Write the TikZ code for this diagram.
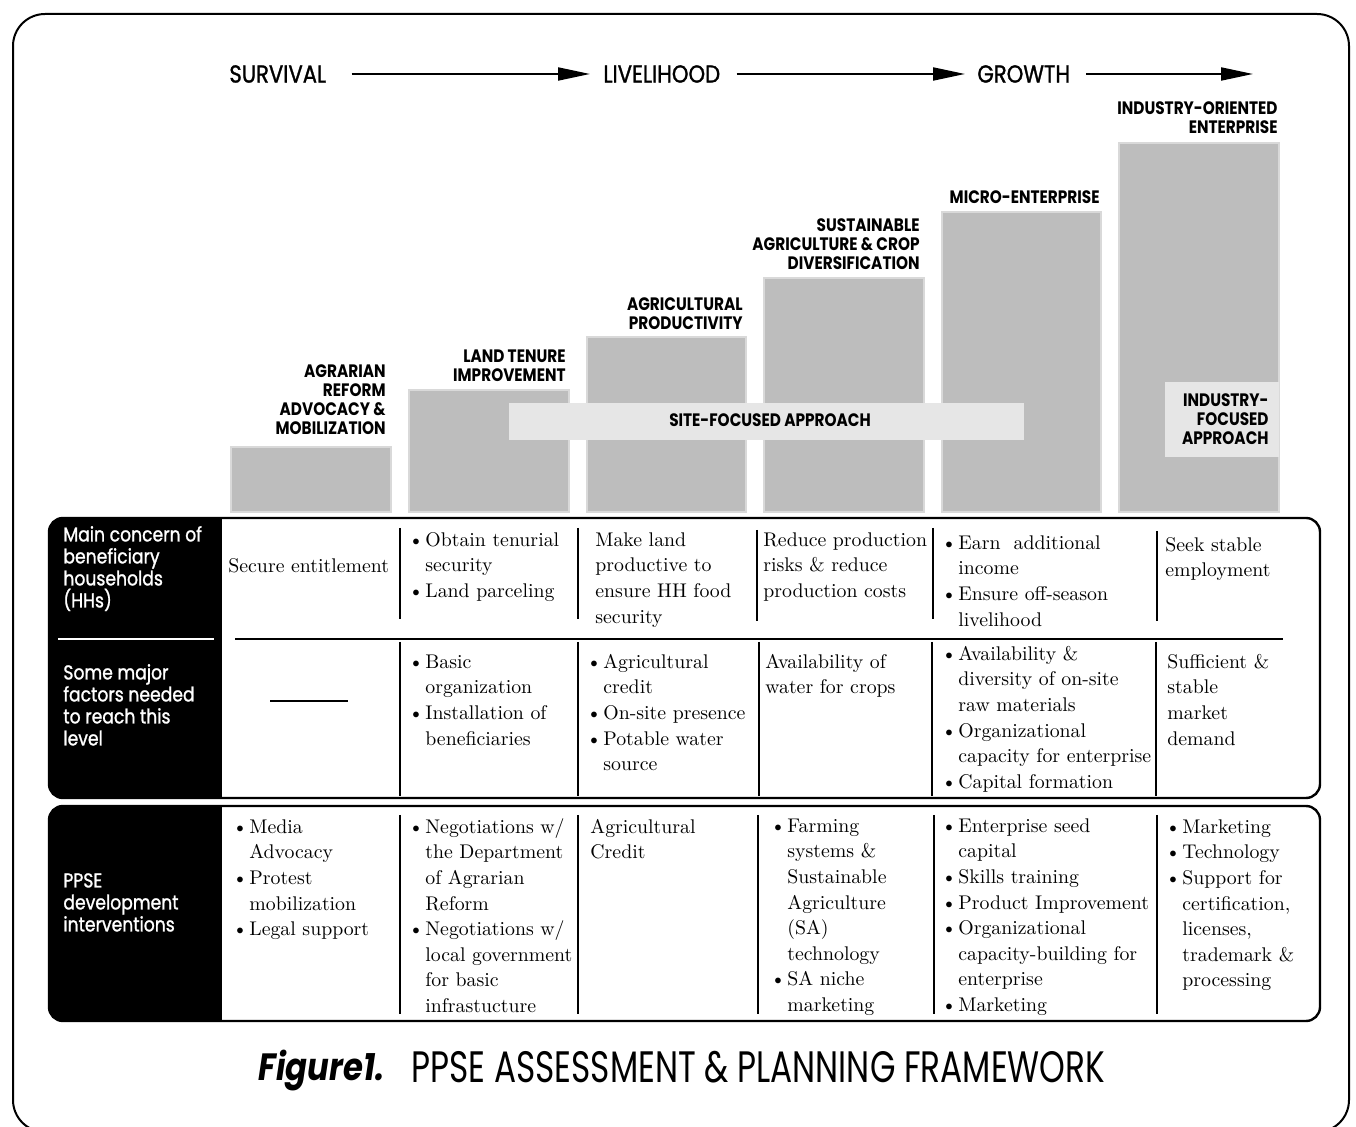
\documentclass[tikz,border=0pt]{standalone}
\usepackage{fontspec}
\usetikzlibrary{arrows.meta}
\newfontfamily\futf[FakeStretch=0.85]{Poppins}
\newfontfamily\futm[FakeStretch=0.86,FakeBold=1.2]{Poppins}
\newfontfamily\capff[FakeStretch=0.745]{Poppins}
\definecolor{barg}{HTML}{BDBDBD}
\definecolor{barb}{HTML}{D9D9D9}
\definecolor{boxg}{HTML}{E6E6E6}
\newcommand\bu{\makebox[8.5pt][l]{\textbullet}}
\newcommand\hi{\hspace*{8.5pt}}
\newcommand\tstrut{\rule{0pt}{8pt}}
\begin{document}
\begin{tikzpicture}[x=0.5pt,y=-0.5pt,
  stage/.style={anchor=west,inner sep=0,font=\futm\fontsize{12.3}{13}\selectfont},
  stagearr/.style={line width=1pt,-{Triangle[length=16pt,width=6.5pt]}},
  barlab/.style={anchor=south east,inner sep=0,align=right,font=\futf\bfseries\fontsize{9}{9.5}\selectfont},
  bar/.style={fill=barg,draw=barb,line width=1pt},
  appr/.style={fill=boxg},
  cell/.style={anchor=north west,inner sep=0,align=left,font=\fontsize{9.9}{12.8}\selectfont},
  head/.style={anchor=north west,inner sep=0,align=left,text=white,font=\futm\fontsize{10}{11}\selectfont},
  tborder/.style={line width=1.2pt,rounded corners=7pt},
  divl/.style={line width=1pt}]
\useasboundingbox (0,0) rectangle (1356,1127);
% outer frame
\draw[line width=1pt,rounded corners=16pt] (13,14) rectangle (1349,1132);
% stages
\node[stage] (surv) at (229,74) {SURVIVAL};
\node[stage] (live) at (603,74) {LIVELIHOOD};
\node[stage] (grow) at (977,74) {GROWTH};
\coordinate (stend) at (1253,74);
\draw[stagearr,shorten <=12.5pt,shorten >=6.5pt] (surv.east) -- (live.west);
\draw[stagearr,shorten <=8pt,shorten >=6pt] (live.east) -- (grow.west);
\draw[stagearr,shorten <=8pt] (grow.east) -- (stend);
% bars
\path[bar] (231,447) rectangle (391,512);
\path[bar] (409,390) rectangle (569,512);
\path[bar] (587,337) rectangle (746,512);
\path[bar] (764,278) rectangle (924,512);
\path[bar] (942,212) rectangle (1101,512);
\path[bar] (1119,143) rectangle (1279,512);
\fill[appr] (509,403) rectangle (1024,440);
\fill[appr] (1165,382) rectangle (1279,457);
\node[anchor=center,inner sep=0,font=\futf\bfseries\fontsize{9}{9.5}\selectfont] (site) at (770,420) {SITE-FOCUSED APPROACH};
\node[barlab] (ind) at (1269,445) {INDUSTRY-\\FOCUSED\\APPROACH};
% bar labels
\node[barlab] (b1) at (386,435) {AGRARIAN\\REFORM\\ADVOCACY \&\\MOBILIZATION};
\node[barlab] (b2) at (566,382) {LAND TENURE\\IMPROVEMENT};
\node[barlab] (b3) at (743,330) {AGRICULTURAL\\PRODUCTIVITY};
\node[barlab] (b4) at (920,270) {SUSTAINABLE\\AGRICULTURE \& CROP\\DIVERSIFICATION};
\node[barlab] (b5) at (1100,204) {MICRO-ENTERPRISE};
\node[barlab] (b6) at (1278,134) {INDUSTRY-ORIENTED\\ENTERPRISE};
% table 1
\begin{scope}
\clip[rounded corners=7pt] (49,518) rectangle (1320,798);
\fill[black] (49,518) rectangle (222,798);
\end{scope}
\draw[tborder] (49,518) rectangle (1320,798);
\draw[white,line width=1pt] (58,639) -- (214,639);
\draw[divl] (235,639) -- (1283,639);
\draw[divl] (400,528) -- (400,619);
\draw[divl] (578,528) -- (578,619);
\draw[divl] (757,530) -- (757,621);
\draw[divl] (933,528) -- (933,619);
\draw[divl] (1157,531) -- (1157,621);
\draw[divl] (400,642) -- (400,796);
\draw[divl] (578,642) -- (578,796);
\draw[divl] (759,642) -- (759,796);
\draw[divl] (932,642) -- (932,796);
\draw[divl] (1156,642) -- (1156,796);
\draw[line width=0.8pt] (270,701) -- (348,701);
\node[head] (h1) at (63,525) {\tstrut Main concern of\\beneficiary\\households\\(HHs)};
\node[head] (h2) at (63,663) {\tstrut Some major\\factors needed\\to reach this\\level};
% row 1 cells
\node[cell] (r1c1) at (228,556) {\tstrut Secure\ entitlement};
\node[cell] (r1c2) at (408,530) {\tstrut\bu Obtain tenurial\\\hi security\\\bu Land parceling};
\node[cell] (r1c3) at (595,530) {\tstrut Make land\\productive to\\ensure HH food\\security};
\node[cell] (r1c4) at (763,530) {\tstrut Reduce production\\risks \& reduce\\production costs};
\node[cell] (r1c5) at (941,533) {\tstrut\bu Earn\ \ additional\\\hi income\\\bu Ensure off-season\\\hi livelihood};
\node[cell] (r1c6) at (1165,535) {\tstrut Seek stable\\employment};
% row 2 cells
\node[cell] (r2c2) at (408,652) {\tstrut\bu Basic\\\hi organization\\\bu Installation of\\\hi beneficiaries};
\node[cell] (r2c3) at (586,652) {\tstrut\bu Agricultural\\\hi credit\\\bu On-site presence\\\bu Potable water\\\hi source};
\node[cell] (r2c4) at (765,652) {\tstrut Availability of\\water for crops};
\node[cell] (r2c5) at (941,644) {\tstrut\bu Availability \&\\\hi diversity of on-site\\\hi raw materials\\\bu Organizational\\\hi capacity for enterprise\\\bu Capital formation};
\node[cell] (r2c6) at (1167,652) {\tstrut Sufficient \&\\stable\\market\\demand};
% table 2
\begin{scope}
\clip[rounded corners=7pt] (49,806) rectangle (1320,1021);
\fill[black] (49,806) rectangle (222,1021);
\end{scope}
\draw[tborder] (49,806) rectangle (1320,1021);
\draw[divl] (400,815) -- (400,1014);
\draw[divl] (578,815) -- (578,1014);
\draw[divl] (758,815) -- (758,1014);
\draw[divl] (934,815) -- (934,1014);
\draw[divl] (1157,815) -- (1157,1014);
\node[head] (h3) at (63,871) {\tstrut PPSE\\development\\interventions};
\node[cell] (r3c1) at (232,817) {\tstrut\bu Media\\\hi Advocacy\\\bu Protest\\\hi mobilization\\\bu Legal support};
\node[cell] (r3c2) at (408,817) {\tstrut\bu Negotiations w/\\\hi the Department\\\hi of Agrarian\\\hi Reform\\\bu Negotiations w/\\\hi local government\\\hi for basic\\\hi infrastucture};
\node[cell] (r3c3) at (590,817) {\tstrut Agricultural\\Credit};
\node[cell] (r3c4) at (770,816) {\tstrut\bu Farming\\\hi systems \&\\\hi Sustainable\\\hi Agriculture\\\hi (SA)\\\hi technology\\\bu SA niche\\\hi marketing};
\node[cell] (r3c5) at (941,816) {\tstrut\bu Enterprise seed\\\hi capital\\\bu Skills training\\\bu Product Improvement\\\bu Organizational\\\hi capacity-building for\\\hi enterprise\\\bu Marketing};
\node[cell] (r3c6) at (1165,817) {\tstrut\bu Marketing\\\bu Technology\\\bu Support for\\\hi certification,\\\hi licenses,\\\hi trademark \&\\\hi processing};
% caption
\node[anchor=base west,inner sep=0,font=\futf\bfseries\itshape\fontsize{19}{20}\selectfont] (figl) at (258,1081) {Figure1.};
\node[anchor=base west,inner sep=0,font=\capff\fontsize{22}{24}\selectfont] (figt) at (411,1083) {PPSE ASSESSMENT \& PLANNING FRAMEWORK};
\end{tikzpicture}
\end{document}
